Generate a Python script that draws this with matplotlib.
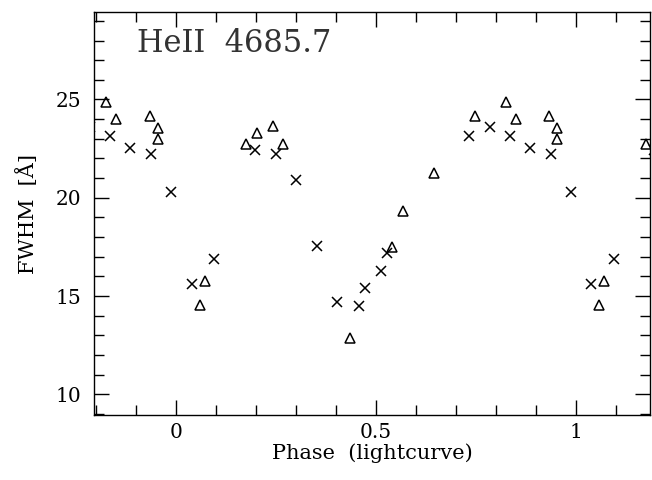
import matplotlib
matplotlib.use("Agg")
import matplotlib.pyplot as plt
from matplotlib.ticker import MultipleLocator

# Phase-folded measurements (phase in [0, 1)), FWHM in Angstrom
cross_phase = [0.039, 0.096, 0.197, 0.250, 0.300, 0.352, 0.404, 0.4585, 0.4735,
               0.512, 0.527, 0.7326, 0.785, 0.836, 0.886, 0.938, 0.988]
cross_fwhm = [15.61, 16.88, 22.41, 22.22, 20.90, 17.54, 14.71, 14.51, 15.42,
              16.29, 17.17, 23.15, 23.58, 23.14, 22.54, 22.22, 20.30]

tri_phase = [0.059, 0.072, 0.176, 0.203, 0.243, 0.267, 0.435, 0.541, 0.568,
             0.645, 0.7476, 0.826, 0.851, 0.934, 0.954, 0.954]
tri_fwhm = [14.53, 15.76, 22.76, 23.32, 23.64, 22.73, 12.85, 17.51, 19.34,
            21.24, 24.15, 24.88, 24.03, 24.17, 23.53, 22.98]

x_lim = (-0.205, 1.186)
y_lim = (8.95, 29.45)
cycles = [-1, 0, 1]
SERIF = "DejaVu Serif"

fig = plt.figure(figsize=(6.52, 4.80), dpi=100)
ax = fig.add_axes([0.1442, 0.1354, 0.8528, 0.8396])

# repeat each measurement one cycle either side, the axis limits do the clipping
xs_c = [p + k for k in cycles for p in cross_phase]
ys_c = [v for k in cycles for v in cross_fwhm]
xs_t = [p + k for k in cycles for p in tri_phase]
ys_t = [v for k in cycles for v in tri_fwhm]

ax.plot(xs_c, ys_c, linestyle="none", marker="x", markersize=7.5,
        markeredgewidth=1.1, color="black")
ax.plot(xs_t, ys_t, linestyle="none", marker="^", markersize=7.2,
        markeredgewidth=1.1, markerfacecolor="none", markeredgecolor="black")

ax.set_xlim(*x_lim)
ax.set_ylim(*y_lim)

ax.xaxis.set_major_locator(MultipleLocator(0.5))
ax.xaxis.set_minor_locator(MultipleLocator(0.1))
ax.yaxis.set_major_locator(MultipleLocator(5))
ax.yaxis.set_minor_locator(MultipleLocator(1))
ax.xaxis.set_major_formatter(plt.FuncFormatter(lambda v, _: f"{v:g}"))

ax.tick_params(which="both", direction="in", top=True, right=True,
               width=1.0, color="black", labelsize=14.5)
ax.tick_params(axis="x", pad=6)
ax.tick_params(axis="y", pad=9)
ax.tick_params(which="major", length=10.5)
ax.tick_params(which="minor", length=7)
for lab in ax.get_xticklabels() + ax.get_yticklabels():
    lab.set_family(SERIF)
for sp in ax.spines.values():
    sp.set_linewidth(1.0)

ax.set_xlabel("Phase  (lightcurve)", family=SERIF, fontsize=15, labelpad=1)
ax.set_ylabel("FWHM  [Å]", family=SERIF, fontsize=15, labelpad=13)

ax.text(0.077, 0.9015, "HeII  4685.7", transform=ax.transAxes, family=SERIF,
        fontsize=22, color="#333333", va="baseline", ha="left")

fig.savefig("out.png", dpi=100)
